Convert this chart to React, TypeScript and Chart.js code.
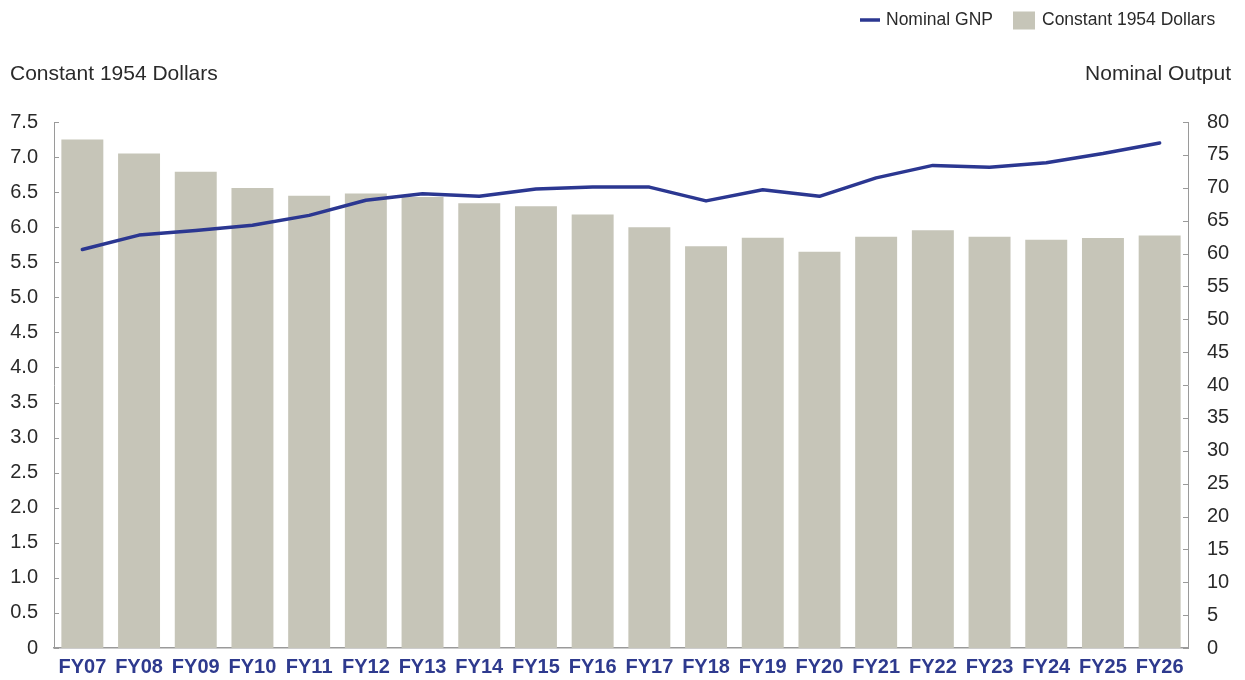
import React, { useEffect, useRef } from "react";
import { Chart, registerables } from "chart.js";

Chart.register(...registerables);

const categories = ["FY07","FY08","FY09","FY10","FY11","FY12","FY13","FY14","FY15","FY16","FY17","FY18","FY19","FY20","FY21","FY22","FY23","FY24","FY25","FY26"];
const constant1954Dollars = [7.25,7.05,6.79,6.56,6.45,6.48,6.43,6.34,6.30,6.18,6.00,5.73,5.85,5.65,5.865,5.955,5.865,5.82,5.845,5.88];
const nominalGNP = [60.6,62.8,63.5,64.3,65.8,68.1,69.1,68.7,69.8,70.1,70.1,68.0,69.7,68.7,71.5,73.4,73.1,73.8,75.2,76.8];
const leftAxisTitle = "Constant 1954 Dollars";
const rightAxisTitle = "Nominal Output";
const lineLabel = "Nominal GNP";
const barLabel = "Constant 1954 Dollars";

const FONT = '"Liberation Sans", Arial, sans-serif';
const BAR_COLOR = "#c6c5b8";
const LINE_COLOR = "#2b3791";
const TEXT_COLOR = "#2a2a2a";
const AXIS_COLOR = "#9a9a9a";

const decorPlugin = {
  id: "decor",
  afterDraw(chart: any) {
    const ctx = chart.ctx;
    const area = chart.chartArea;
    ctx.save();
    // axis titles
    ctx.fillStyle = TEXT_COLOR;
    ctx.font = `21px ${FONT}`;
    ctx.textBaseline = "middle";
    ctx.textAlign = "left";
    ctx.fillText(leftAxisTitle, 10, 74);
    ctx.textAlign = "right";
    ctx.fillText(rightAxisTitle, 1231, 74);
    // legend
    ctx.strokeStyle = LINE_COLOR;
    ctx.lineWidth = 3.5;
    ctx.beginPath();
    ctx.moveTo(860, 20);
    ctx.lineTo(880, 20);
    ctx.stroke();
    ctx.font = `17.5px ${FONT}`;
    ctx.textAlign = "left";
    ctx.fillStyle = TEXT_COLOR;
    ctx.fillText(lineLabel, 886, 20);
    ctx.fillStyle = BAR_COLOR;
    ctx.fillRect(1013, 11.5, 22, 18);
    ctx.fillStyle = TEXT_COLOR;
    ctx.fillText(barLabel, 1042, 20);
    // inward tick marks
    ctx.strokeStyle = AXIS_COLOR;
    ctx.lineWidth = 1;
    const y = chart.scales.y;
    y.ticks.forEach((t: any) => {
      const py = Math.round(y.getPixelForValue(t.value)) + 0.5;
      ctx.beginPath();
      ctx.moveTo(area.left, py);
      ctx.lineTo(area.left + 5, py);
      ctx.stroke();
    });
    const y1 = chart.scales.y1;
    y1.ticks.forEach((t: any) => {
      const py = Math.round(y1.getPixelForValue(t.value)) + 0.5;
      ctx.beginPath();
      ctx.moveTo(area.right - 5, py);
      ctx.lineTo(area.right, py);
      ctx.stroke();
    });
    ctx.restore();
  },
};

export default function App() {
  const ref = useRef<HTMLCanvasElement>(null);
  useEffect(() => {
    if (!ref.current) return;
    const chart = new Chart(ref.current, {
      type: "bar",
      data: {
        labels: categories,
        datasets: [
          {
            type: "line",
            label: lineLabel,
            data: nominalGNP,
            yAxisID: "y1",
            borderColor: LINE_COLOR,
            backgroundColor: LINE_COLOR,
            borderWidth: 3.5,
            pointRadius: 0,
            tension: 0,
            borderJoinStyle: "round",
            borderCapStyle: "round",
            order: 0,
          } as any,
          {
            type: "bar",
            label: barLabel,
            data: constant1954Dollars,
            yAxisID: "y",
            backgroundColor: BAR_COLOR,
            categoryPercentage: 1,
            barPercentage: 0.74,
            order: 1,
          } as any,
        ],
      },
      options: {
        animation: false,
        responsive: false,
        layout: { padding: { left: 10, right: 16, top: 122, bottom: 1 } },
        plugins: { legend: { display: false }, tooltip: { enabled: false } },
        scales: {
          x: {
            offset: true,
            grid: { display: false, drawTicks: false },
            border: { display: true, color: AXIS_COLOR, width: 1.5 },
            afterFit: (s: any) => { s.height = 31; },
            ticks: {
              autoSkip: false,
              maxRotation: 0,
              minRotation: 0,
              padding: 7,
              color: "#2e3a8e",
              font: { family: FONT, size: 20, weight: "bold" },
            },
          },
          y: {
            position: "left",
            min: 0,
            max: 7.5,
            grid: { display: false, drawTicks: false },
            border: { display: true, color: AXIS_COLOR, width: 1 },
            afterFit: (s: any) => { s.width = 44; },
            ticks: {
              stepSize: 0.5,
              padding: 16,
              color: TEXT_COLOR,
              font: { family: FONT, size: 20 },
              callback: (v: any) => (Number(v) === 0 ? "0" : Number(v).toFixed(1)),
            },
          },
          y1: {
            position: "right",
            min: 0,
            max: 80,
            grid: { display: false, drawTicks: false },
            border: { display: true, color: AXIS_COLOR, width: 1 },
            afterFit: (s: any) => { s.width = 41; },
            ticks: {
              stepSize: 5,
              padding: 19,
              color: TEXT_COLOR,
              font: { family: FONT, size: 20 },
            },
          },
        },
      } as any,
      plugins: [decorPlugin],
    });
    return () => chart.destroy();
  }, []);
  return (
    <div style={{ position: "absolute", left: 0, top: 0, width: 1245, height: 680, background: "#fff" }}>
      <canvas ref={ref} width={1245} height={680} style={{ display: "block" }} />
    </div>
  );
}
